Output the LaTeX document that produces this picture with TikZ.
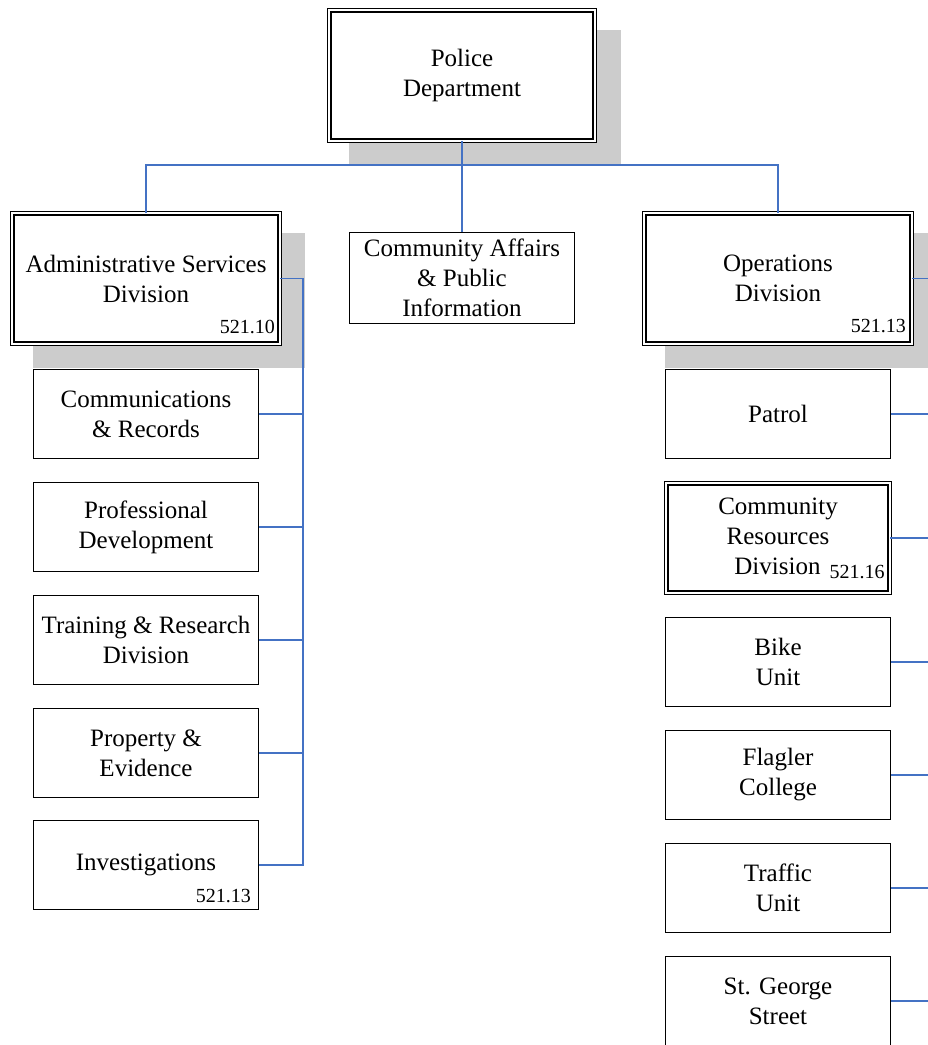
\documentclass[tikz,border=0pt]{standalone}
\usepackage{fontspec}
\setmainfont{Liberation Serif}
\definecolor{shadowgray}{RGB}{204,204,204}
\definecolor{linkblue}{RGB}{68,114,196}
\begin{document}
\begin{tikzpicture}[x=1pt,y=-1pt,
  every node/.style={font=\fontsize{25}{30}\selectfont, align=center, inner sep=0pt},
  dbox/.style={draw=black, line width=1.2pt, double=white, double distance=2.2pt, fill=white,
               minimum width=267.4pt, minimum height=130.4pt},
  sbox/.style={draw=black, line width=1.2pt, fill=white, minimum width=224.8pt, minimum height=88.8pt},
  shadowbox/.style={fill=shadowgray, draw=none},
  conn/.style={draw=linkblue, line width=1.3pt},
  num/.style={font=\fontsize{20}{24}\selectfont, anchor=base east}]
\useasboundingbox (0,0) rectangle (928,1045);

% shadows
\fill[shadowbox] (349,30) rectangle (621,165);
\fill[shadowbox] (33,233) rectangle (305,368);
\fill[shadowbox] (665,233) rectangle (945,368);

% top level
\node[dbox, minimum width=265.4pt] (pd) at (462,75.5) {Police\\Department};
\node[dbox] (adm) at (146,278.5) {Administrative Services\\Division};
\node[sbox, minimum height=90.8pt] (cap) at (462,278) {Community Affairs\\\& Public\\Information};
\node[dbox] (ops) at (778,278.5) {Operations\\Division};
\node[num] (admnum) at (275,333) {521.10};
\node[num] (opsnum) at (906,332) {521.13};

% left column
\node[sbox] (comm) at (146,414) {Communications\\\& Records};
\node[sbox] (prof) at (146,527) {Professional\\Development};
\node[sbox] (train) at (146,640) {Training \& Research\\Division};
\node[sbox] (prop) at (146,753) {Property \&\\Evidence};
\node[sbox] (inv) at (146,865) {Investigations};
\node[num] (invnum) at (251,902) {521.13};

% right column
\node[sbox] (patrol) at (778,414) {Patrol};
\node[dbox, minimum width=223.4pt, minimum height=109.4pt] (cr) at (778,538)
  {Community\\Resources\\\hspace*{63pt}Division\hspace{9pt}\raisebox{-4pt}{\fontsize{20}{24}\selectfont 521.16}};
\node[sbox] (bike) at (778,662) {Bike\\Unit};
\node[sbox] (flag) at (778,775) {Flagler\\College};
\node[sbox] (traf) at (778,888) {Traffic\\Unit};
\node[sbox] (stg) at (778,1001) {St. George\\Street};

% connectors top
\coordinate (bus) at (462,165);
\draw[conn] (pd.south) -- (bus);
\draw[conn] (adm.north) |- (bus) -| (ops.north);
\draw[conn] (bus) -- (cap.north);

% left bus
\coordinate (lbus) at (303,278.5);
\draw[conn] (adm.east) -- (lbus) |- (inv.east);
\foreach \n in {comm,prof,train,prop}
  \draw[conn] (\n.east) -- (\n.east -| lbus);

% right bus
\coordinate (rbus) at (930,278.5);
\draw[conn] (ops.east) -- (rbus) |- (stg.east);
\foreach \n in {patrol,cr,bike,flag,traf}
  \draw[conn] (\n.east) -- (\n.east -| rbus);
\end{tikzpicture}
\end{document}
